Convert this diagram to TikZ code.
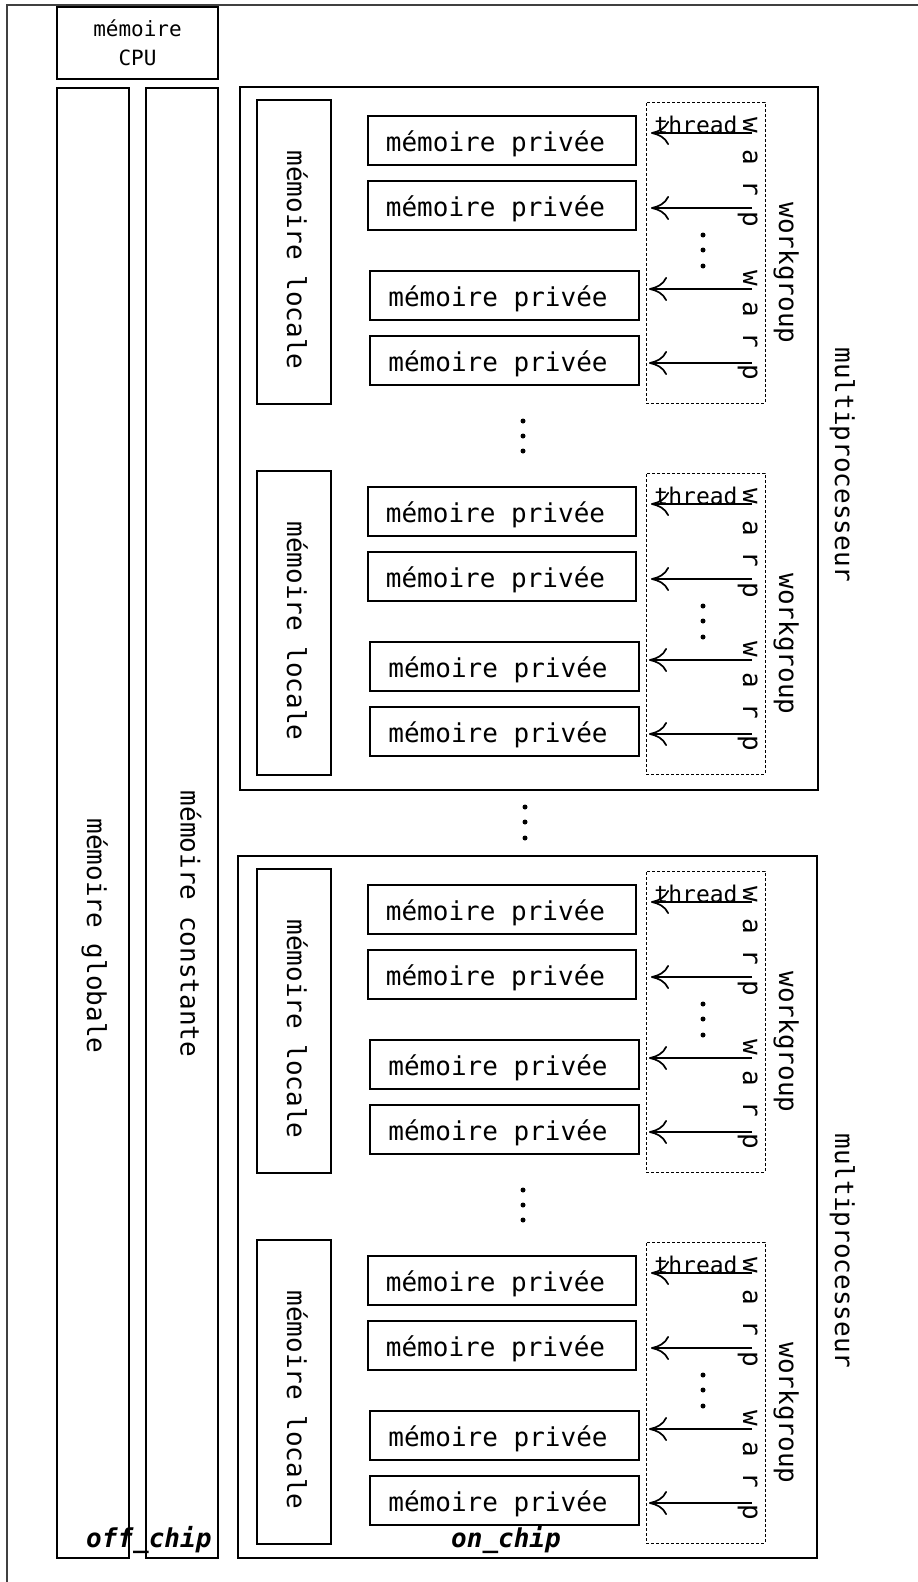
\documentclass[tikz,border=0pt]{standalone}
\usepackage{fontspec}
\setmonofont{DejaVu Sans Mono}
\usetikzlibrary{arrows.meta}
\newcommand{\bigf}{\ttfamily\fontsize{26}{31}\selectfont}
\newcommand{\thrf}{\ttfamily\fontsize{23}{27}\selectfont}
\newcommand{\smallf}{\ttfamily\fontsize{21}{29}\selectfont}
\newcommand{\chipf}{\ttfamily\bfseries\itshape\fontsize{26}{31}\selectfont}
\tikzset{
  membox/.style={draw, line width=1.4pt, inner sep=0pt},
  lbox/.style={membox, minimum width=74pt, minimum height=304pt},
  pbox/.style={membox, minimum height=49pt},
  wgbox/.style={draw, line width=1pt, dash pattern=on 3pt off 2pt, inner sep=0pt, minimum width=119pt, minimum height=301pt},
  txt/.style={font=\bigf, inner sep=0pt, anchor=base},
  vtxt/.style={txt, rotate=-90},
  arr/.style={line width=1.7pt, -{To[length=18pt,width=24pt]}},
  frame/.style={line width=1.4pt, draw=black!75},
  dotf/.style={fill=black},
}
\newcommand{\wgroup}[2]{%
\begin{scope}[shift={(0,#2)}]
  \node[lbox] (#1L) at (294,252) {};
  \node[vtxt] (#1Lt) at (287,260) {mémoire locale};
  \node[pbox, minimum width=268pt] (#1P1) at (502,140.5) {};
  \node[pbox, minimum width=268pt] (#1P2) at (502,205.5) {};
  \node[pbox, minimum width=269pt] (#1P3) at (504.5,295.5) {};
  \node[pbox, minimum width=269pt] (#1P4) at (504.5,360.5) {};
  \node[txt] (#1T1) at (495.5,151.5) {mémoire privée};
  \node[txt] (#1T2) at (495.5,216.5) {mémoire privée};
  \node[txt] (#1T3) at (498,306.5) {mémoire privée};
  \node[txt] (#1T4) at (498,371.5) {mémoire privée};
  \node[wgbox] (#1W) at (705.5,252.5) {};
  \node[vtxt] (#1Wt) at (779,273) {workgroup};
  \node[vtxt] (#1w1) at (743,172.5) {w a r p};
  \node[vtxt] (#1w2) at (743,325) {w a r p};
  \coordinate (#1A1s) at (752,133); \coordinate (#1A1e) at (651,133);
  \coordinate (#1A2s) at (752,208); \coordinate (#1A2e) at (651,208);
  \coordinate (#1A3s) at (752,289); \coordinate (#1A3e) at (649,289);
  \coordinate (#1A4s) at (752,363); \coordinate (#1A4e) at (649,363);
  \draw[arr] (#1A1s) -- (#1A1e);
  \draw[arr] (#1A2s) -- (#1A2e);
  \draw[arr] (#1A3s) -- (#1A3e);
  \draw[arr] (#1A4s) -- (#1A4e);
  \node[txt, font=\thrf] (#1th) at (696,133) {thread};
  \fill[dotf] (703,235) circle (2.5);
  \fill[dotf] (703,250) circle (2.5);
  \fill[dotf] (703,266) circle (2.5);
\end{scope}}
\begin{document}
\begin{tikzpicture}[x=1pt,y=-1pt]
\useasboundingbox (0,0) rectangle (918,1582);
\coordinate (fBL) at (7,1582);
\coordinate (fTL) at (7,5);
\coordinate (fTR) at (918,5);
\draw[frame] (fBL) -- (fTL) -- (fTR);
% CPU memory
\node[membox, minimum width=161pt, minimum height=72pt, align=center, font=\smallf] (cpu) at (137.5,43) {mémoire\\CPU};
% global and constant memory
\node[membox, minimum width=72pt, minimum height=1470pt] (glob) at (93,823) {};
\node[vtxt] (globt) at (87,936) {mémoire globale};
\node[membox, minimum width=72pt, minimum height=1470pt] (const) at (182,823) {};
\node[vtxt] (constt) at (180.5,924) {mémoire constante};
% multiprocessors
\node[membox, minimum width=578pt, minimum height=703pt] (mp1) at (529,438.5) {};
\node[vtxt] (mp1t) at (835,465) {multiprocesseur};
\node[membox, minimum width=579pt, minimum height=702pt] (mp2) at (527.5,1207) {};
\node[vtxt] (mp2t) at (835,1251) {multiprocesseur};
\wgroup{a}{0}
\wgroup{b}{371}
\wgroup{c}{769}
\wgroup{d}{1140}
% dots between workgroups
\fill[dotf] (523,421) circle (2.5);
\fill[dotf] (523,436) circle (2.5);
\fill[dotf] (523,451) circle (2.5);
\fill[dotf] (523,1190) circle (2.5);
\fill[dotf] (523,1205) circle (2.5);
\fill[dotf] (523,1220) circle (2.5);
% dots between multiprocessors
\fill[dotf] (525,807) circle (2.5);
\fill[dotf] (525,822) circle (2.5);
\fill[dotf] (525,838) circle (2.5);
% chip labels
\node[txt, font=\chipf, anchor=base west] (off) at (86,1547) {off\_chip};
\node[txt, font=\chipf, anchor=base west] (on) at (451,1547) {on\_chip};
\end{tikzpicture}
\end{document}
